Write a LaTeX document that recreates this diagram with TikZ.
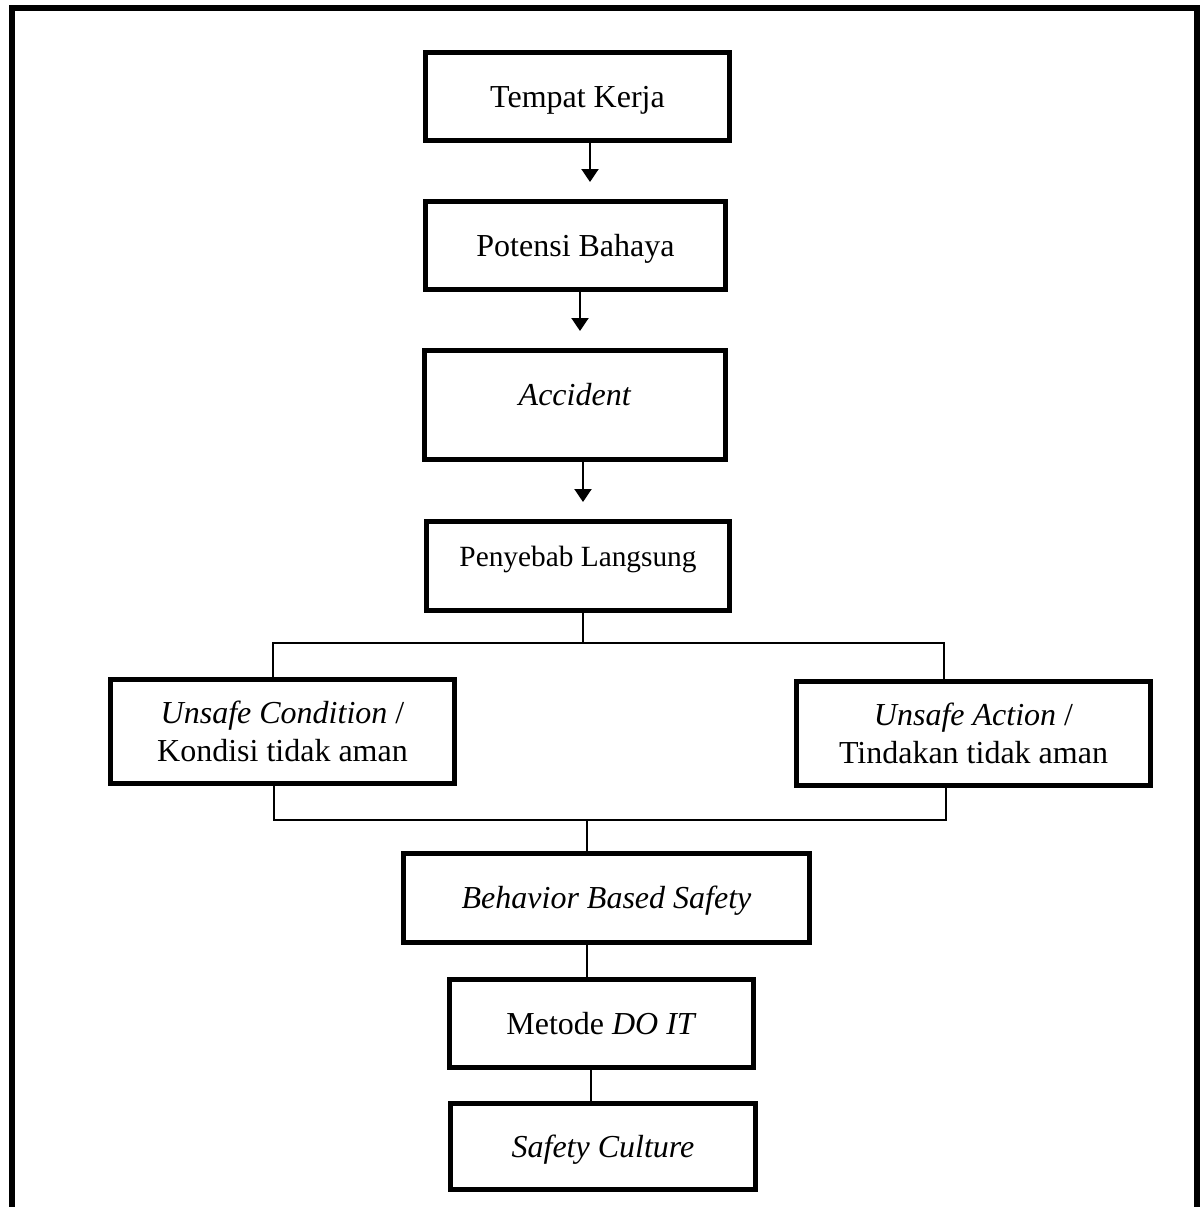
\documentclass[tikz,border=0pt]{standalone}
\usepackage{fontspec}
\setmainfont{Liberation Serif}
\usetikzlibrary{arrows.meta}
\tikzset{
  box/.style={draw, line width=2.5pt, inner sep=0pt, align=center, font=\fontsize{16}{19}\selectfont},
  boxsm/.style={box, font=\fontsize{14.67}{19}\selectfont},
  mid/.style={text height=10.6pt, text depth=0pt},
  high/.style={text height=8pt, text depth=8pt},
  arr/.style={line width=1pt, -{Triangle[length=6.5pt,width=8.5pt]}, shorten >=8.5pt},
  link/.style={line width=0.65pt},
  frame/.style={line width=3pt}
}
\begin{document}
\begin{tikzpicture}[x=0.5pt,y=-0.5pt]
\useasboundingbox (0,0) rectangle (1202,1207);
\draw[frame] (12,1215) -- (12,7.5) -- (1197,7.5) -- (1197,1215);

\node[box,mid,minimum width=152pt,minimum height=44pt] (tempat) at (577.5,96.5) {Tempat Kerja};
\node[box,mid,minimum width=150pt,minimum height=44pt] (potensi) at (575.5,245.5) {Potensi Bahaya};
\node[box,high,minimum width=150.5pt,minimum height=54.5pt] (accident) at (575,405) {\textit{Accident}};
\node[boxsm,high,minimum width=151.5pt,minimum height=44.5pt] (penyebab) at (578,566) {Penyebab Langsung};
\node[box,minimum width=172pt,minimum height=52pt] (unsafecond) at (282.5,731.5) {\textit{Unsafe Condition} /\\Kondisi tidak aman};
\node[box,minimum width=177pt,minimum height=52pt] (unsafeact) at (973.5,733.5) {\textit{Unsafe Action} /\\Tindakan tidak aman};
\node[box,mid,minimum width=203pt,minimum height=44.5pt] (bbs) at (606.5,898) {\textit{Behavior Based Safety}};
\node[box,mid,minimum width=152pt,minimum height=44pt] (metode) at (601.5,1023.5) {Metode \textit{DO IT}};
\node[box,mid,minimum width=152.5pt,minimum height=43pt] (culture) at (603,1146.5) {\textit{Safety Culture}};

\draw[arr] ([xshift=6.25pt]tempat.south) -- ([xshift=6.25pt]tempat.south |- potensi.north);
\draw[arr] ([xshift=2.25pt]potensi.south) -- ([xshift=2.25pt]potensi.south |- accident.north);
\draw[arr] ([xshift=4pt]accident.south) -- ([xshift=4pt]accident.south |- penyebab.north);

\coordinate (splitL) at (273,643);
\coordinate (splitR) at (944,643);
\draw[link] ([xshift=2.5pt]penyebab.south) -- ([xshift=2.5pt]penyebab.south |- splitL);
\draw[link] (unsafecond.north -| splitL) -- (splitL) -- (splitR) -- (unsafeact.north -| splitR);

\coordinate (joinL) at (274,820);
\coordinate (joinR) at (946,820);
\draw[link] (unsafecond.south -| joinL) -- (joinL) -- (joinR) -- (unsafeact.south -| joinR);
\draw[link] ([xshift=-9.75pt]bbs.north) -- ([xshift=-9.75pt]bbs.north |- joinL);
\draw[link] ([xshift=-9.75pt]bbs.south) -- ([xshift=-9.75pt]bbs.south |- metode.north);
\draw[link] ([xshift=-5.25pt]metode.south) -- ([xshift=-5.25pt]metode.south |- culture.north);
\end{tikzpicture}
\end{document}
